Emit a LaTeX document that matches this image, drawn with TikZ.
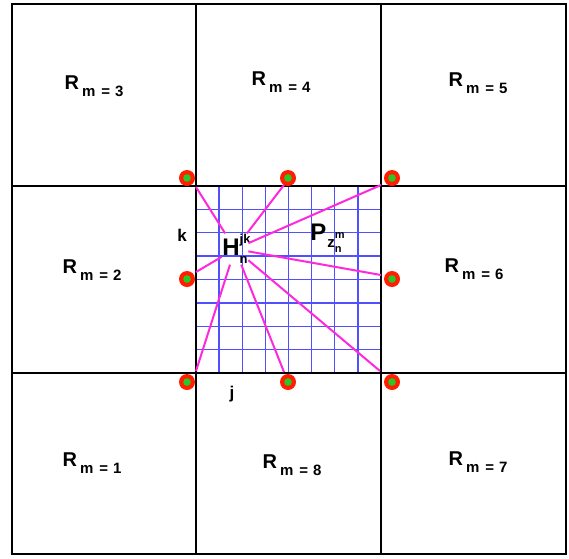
\documentclass[tikz,border=0pt]{standalone}
\usepackage{fontspec}
\setmainfont{Liberation Sans}
\definecolor{gridblue}{RGB}{80,80,255}
\definecolor{mag}{RGB}{255,40,220}
\definecolor{dotred}{RGB}{255,30,0}
\definecolor{dotgreen}{RGB}{40,200,40}
\newcommand\Rlab[1]{\bfseries\fontsize{20}{20}\selectfont R\hspace{3pt}\raisebox{-0.38em}{\fontsize{15}{15}\selectfont m\hspace{6pt}=\hspace{5pt}#1}}
\begin{document}
\begin{tikzpicture}[x=1pt,y=-1pt,
  frame/.style={draw=black,line width=2.8pt},
  gline/.style={draw=gridblue,line width=1.3pt},
  ray/.style={draw=mag,line width=2pt},
  rlab/.style={inner sep=0pt,anchor=center},
  dot/.style={circle,fill=dotred,minimum size=16pt,inner sep=0pt,path picture={\fill[dotgreen] (path picture bounding box.center) circle (3.8pt);}},
  biglab/.style={inner sep=0pt,font=\bfseries\fontsize{24}{24}\selectfont}]
\useasboundingbox (0,0) rectangle (569,558);
\fill[white] (0,0) rectangle (569,558);
% blue grid in the centre cell
\foreach \i in {1,...,7} {
  \draw[gline] ({196+\i*185/8},186) -- ({196+\i*185/8},373);
  \draw[gline] (196,{186+\i*187/8}) -- (381,{186+\i*187/8});
}
% frame and cell lines
\draw[frame] (12,4) rectangle (566,554);
\draw[frame] (196,4) -- (196,554);
\draw[frame] (381,4) -- (381,554);
\draw[frame] (12,186) -- (566,186);
\draw[frame] (12,373) -- (566,373);
% region labels
\node[rlab] (r3) at (94,86) {\Rlab{3}};
\node[rlab] (r4) at (281,82) {\Rlab{4}};
\node[rlab] (r5) at (478,83) {\Rlab{5}};
\node[rlab] (r2) at (92,270) {\Rlab{2}};
\node[rlab] (r6) at (474,269) {\Rlab{6}};
\node[rlab] (r1) at (92,463) {\Rlab{1}};
\node[rlab] (r8) at (292,465) {\Rlab{8}};
\node[rlab] (r7) at (478,462) {\Rlab{7}};
% labels in the centre
\node[inner sep=0pt,font=\bfseries\fontsize{17}{17}\selectfont] (k) at (182,235) {k};
\node[inner sep=0pt,font=\bfseries\fontsize{17}{17}\selectfont] (j) at (232,394) {j};
\node[biglab,inner sep=0.5pt] (H) at (235,249) {H\rlap{\raisebox{0.5em}{\fontsize{13}{13}\selectfont jk}}\raisebox{-0.35em}{\fontsize{13}{13}\selectfont n}};
\node[biglab] (P) at (326,238) {P\hspace{1pt}\raisebox{-0.3em}{\fontsize{15}{15}\selectfont z\rlap{\raisebox{0.6em}{\fontsize{11}{11}\selectfont m}}\raisebox{-0.35em}{\fontsize{11}{11}\selectfont n}}};
% ray end points on the border of the centre cell
\coordinate (e1) at (196,187);
\coordinate (e2) at (287,181);
\coordinate (e3) at (381,185);
\coordinate (e4) at (381,275);
\coordinate (e5) at (380,371);
\coordinate (e6) at (284,372);
\coordinate (e7) at (196,371);
\coordinate (e8) at (196,272);
\foreach \e in {e1,e2,e3,e4,e5,e6,e7,e8} \draw[ray] (H) -- (\e);
% dots
\node[dot] (d1) at (187,178) {};
\node[dot] (d2) at (288,178) {};
\node[dot] (d3) at (392,178) {};
\node[dot] (d4) at (187,279) {};
\node[dot] (d5) at (392,279) {};
\node[dot] (d6) at (187,382) {};
\node[dot] (d7) at (288,382) {};
\node[dot] (d8) at (392,382) {};
\end{tikzpicture}
\end{document}
